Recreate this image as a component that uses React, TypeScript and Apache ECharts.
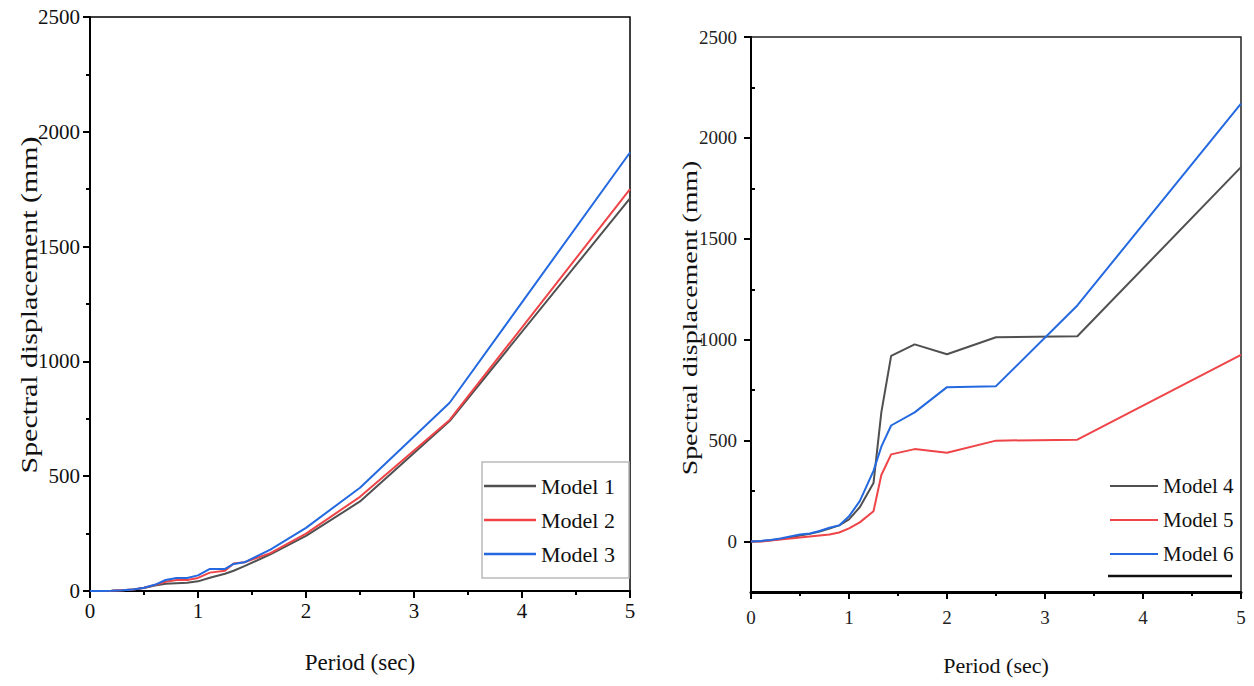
import React, { useEffect, useRef } from "react";
import * as echarts from "echarts";

const periods = [0, 0.1, 0.2, 0.3, 0.4, 0.5, 0.6, 0.7, 0.8, 0.9, 1.0, 1.11, 1.25, 1.33, 1.43, 1.67, 2.0, 2.5, 3.33, 5.0];

// Left panel
const model1 = [0, 0.5, 1.5, 3, 6, 13, 24, 32, 34, 36, 42, 58, 75, 88, 108, 160, 240, 390, 740, 1710];
const model2 = [0, 0.5, 1.5, 3, 7, 14, 26, 40, 48, 48, 57, 80, 88, 120, 125, 165, 250, 410, 745, 1750];
const model3 = [0, 0.5, 1.5, 3, 7, 14, 27, 48, 57, 57, 68, 96, 96, 118, 125, 180, 275, 450, 820, 1910];

// Right panel
const model4 = [0, 2, 6, 12, 20, 30, 38, 50, 65, 80, 110, 170, 290, 640, 920, 977, 928, 1012, 1017, 1855];
const model5 = [0, 0, 5, 10, 15, 20, 25, 30, 35, 45, 65, 95, 150, 330, 432, 458, 440, 500, 505, 925];
const model6 = [0, 3, 8, 15, 25, 35, 40, 52, 68, 80, 125, 200, 350, 470, 575, 640, 765, 770, 1170, 2170];

const yMajorRight = [0, 500, 1000, 1500, 2000, 2500];
const yMinorRight = [250, 750, 1250, 1750, 2250];

const GRAY = "#505050";
const RED = "#ef4448";
const BLUE = "#2469e0";
const SERIF = "'Liberation Serif', serif";

const pairs = (ys: number[]) => periods.map((p, i) => [p, ys[i]]);
const plain = (v: number) => String(v);

export default function App() {
  const ref = useRef<HTMLDivElement>(null);
  useEffect(() => {
    if (!ref.current) return;
    const chart = echarts.init(ref.current, undefined, { renderer: "svg" });
    const axisLine = { onZero: false, lineStyle: { color: "#000", width: 2 } };
    const tick = { length: 7, lineStyle: { color: "#000", width: 2 } };
    const minor = { show: true, splitNumber: 2, length: 4, lineStyle: { color: "#000", width: 2 } };
    const lblL = { fontFamily: SERIF, fontSize: 21, color: "#111", formatter: plain };
    const lblR = { fontFamily: SERIF, fontSize: 19, color: "#222", formatter: plain };
    const nameStyle = (s: number) => ({ fontFamily: SERIF, fontSize: s, color: "#111" });
    const line = (name: string, ys: number[], color: string, xi: number, yi: number) => ({
      name,
      type: "line",
      xAxisIndex: xi,
      yAxisIndex: yi,
      data: pairs(ys),
      showSymbol: false,
      symbol: "none",
      color,
      itemStyle: { color },
      lineStyle: { color, width: 2 },
    });
    chart.setOption({
      animation: false,
      backgroundColor: "#fff",
      grid: [
        { left: 90, top: 17, width: 540, height: 574, show: true, borderColor: "#000", borderWidth: 1.5 },
        { left: 751, top: 37, width: 490, height: 555, show: true, borderColor: "#222", borderWidth: 1.5 },
      ],
      xAxis: [
        {
          gridIndex: 0, type: "value", min: 0, max: 5, interval: 1,
          axisLine, axisTick: tick, minorTick: minor, splitLine: { show: false },
          axisLabel: { ...lblL, margin: 9 },
          name: "Period (sec)", nameLocation: "middle", nameGap: 60, nameTextStyle: nameStyle(23),
        },
        {
          gridIndex: 1, type: "value", min: 0, max: 5, interval: 1,
          axisLine: { onZero: false, lineStyle: { color: "#000", width: 3 } }, axisTick: tick, minorTick: minor, splitLine: { show: false },
          axisLabel: { ...lblR, margin: 16 },
          name: "Period (sec)", nameLocation: "middle", nameGap: 62, nameTextStyle: nameStyle(22),
        },
      ],
      yAxis: [
        {
          gridIndex: 0, type: "value", min: 0, max: 2500, interval: 500,
          axisLine, axisTick: tick, minorTick: minor, splitLine: { show: false },
          axisLabel: { ...lblL, margin: 10 },
        },
        {
          gridIndex: 1, type: "value", min: -250, max: 2500,
          axisLine, axisTick: { ...tick, customValues: yMajorRight }, splitLine: { show: false },
          axisLabel: { ...lblR, margin: 14, customValues: yMajorRight },
        },
        {
          gridIndex: 1, type: "value", min: -250, max: 2500,
          axisLine: { show: false }, axisTick: { length: 4, lineStyle: { color: "#000", width: 2 }, customValues: yMinorRight },
          axisLabel: { show: false }, splitLine: { show: false },
        },
      ],
      legend: [
        {
          data: ["Model 1", "Model 2", "Model 3"], left: 482, top: 462, orient: "vertical",
          backgroundColor: "#fff", borderColor: "#bbb", borderWidth: 1.5, borderRadius: 0,
          padding: [12, 14, 12, 2], icon: "rect", itemWidth: 52, itemHeight: 2.5, itemGap: 10, selectedMode: false,
          textStyle: { fontFamily: SERIF, fontSize: 22, color: "#111", lineHeight: 24 },
        },
        {
          data: ["Model 4", "Model 5", "Model 6"], left: 1108, top: 462, orient: "vertical",
          padding: [12, 10, 12, 2], icon: "rect", itemWidth: 48, itemHeight: 2, itemGap: 10, selectedMode: false,
          textStyle: { fontFamily: SERIF, fontSize: 21, color: "#111", lineHeight: 24 },
        },
      ],
      graphic: [
        {
          type: "text", x: 29, y: 305, rotation: Math.PI / 2, scaleX: 1.3,
          style: { text: "Spectral displacement (mm)", font: `23px ${SERIF}`, fill: "#111", align: "center", verticalAlign: "middle" },
        },
        {
          type: "text", x: 690, y: 318, rotation: Math.PI / 2, scaleX: 1.27,
          style: { text: "Spectral displacement (mm)", font: `22px ${SERIF}`, fill: "#111", align: "center", verticalAlign: "middle" },
        },
        {
          type: "line", shape: { x1: 1108, y1: 576, x2: 1232, y2: 576 }, style: { stroke: "#111", lineWidth: 2.5 },
        },
      ],
      series: [
        line("Model 1", model1, GRAY, 0, 0),
        line("Model 2", model2, RED, 0, 0),
        line("Model 3", model3, BLUE, 0, 0),
        line("Model 4", model4, GRAY, 1, 1),
        line("Model 5", model5, RED, 1, 1),
        line("Model 6", model6, BLUE, 1, 1),
      ],
    });
    return () => chart.dispose();
  }, []);
  return <div ref={ref} style={{ position: "absolute", left: 0, top: 0, width: 1254, height: 686 }} />;
}
